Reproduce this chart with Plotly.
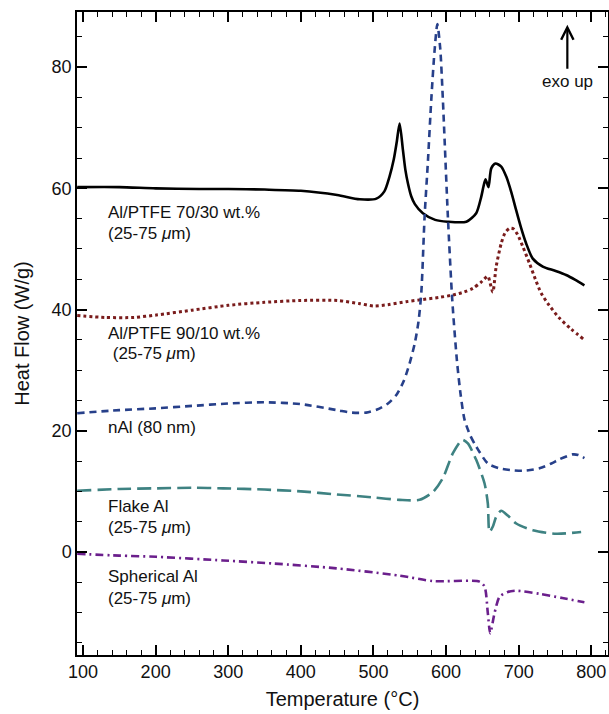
import plotly.graph_objects as go

# ---- data (Temperature °C, Heat Flow W/g) ----
t_7030 = [92, 150, 200, 260, 300, 350, 400, 450, 481, 504, 515, 522, 528, 532, 536, 540.6, 544, 547.5, 552, 557, 568, 585, 602, 628, 641.5, 648.4, 651.5, 654.3, 658.4, 662.2, 668, 676, 683, 690, 696.5, 703, 710.3, 719.4, 733.2, 750, 765.3, 778, 790.5]
hf_7030 = [60.2, 60.2, 60.0, 59.9, 59.9, 59.8, 59.6, 58.9, 58.2, 58.3, 59.5, 61.9, 64.8, 67.6, 70.7, 66.3, 63.0, 60.8, 58.7, 57.4, 55.9, 54.8, 54.5, 54.5, 55.9, 58.6, 60.3, 61.5, 60.2, 63.3, 64.1, 63.6, 61.9, 59.3, 56.4, 53.6, 50.9, 48.4, 47.1, 46.4, 45.7, 44.9, 44.0]

t_9010 = [92, 130, 170, 201, 250, 300, 350, 400, 450, 480, 500, 520, 545, 563.5, 590, 609.4, 625, 636.9, 648, 657.5, 660.8, 664.4, 669, 675.9, 681, 687.3, 693, 698.8, 706, 714.9, 723, 731, 742, 756, 772, 790.5]
hf_9010 = [39.0, 38.7, 38.7, 39.1, 39.9, 40.7, 41.2, 41.5, 41.5, 41.0, 40.6, 40.8, 41.3, 41.6, 42.0, 42.4, 42.9, 43.5, 44.5, 45.5, 44.3, 42.9, 47.1, 50.9, 52.6, 53.4, 53.3, 52.3, 50.3, 47.6, 45.0, 42.7, 40.7, 38.6, 36.8, 35.0]

t_nal = [92, 150, 200, 250, 300, 350, 400, 450, 470, 490, 505, 520, 532, 542, 550, 557, 562, 566, 570.4, 575, 579.6, 584, 588, 592, 595.6, 602.5, 608.5, 615, 620, 625.5, 633, 641.5, 657.5, 673.6, 690, 705.6, 728.6, 745, 756.1, 774.4, 782, 790.5]
hf_nal = [22.9, 23.4, 23.7, 24.1, 24.5, 24.7, 24.4, 23.4, 23.0, 23.0, 23.5, 24.5, 26.0, 28.3, 31.2, 34.5, 38.0, 43.0, 55.3, 64.5, 74.6, 82.5, 87.1, 83.0, 74.6, 55.3, 41.6, 31.5, 26.0, 21.8, 19.3, 17.4, 14.6, 13.8, 13.5, 13.4, 13.8, 14.6, 15.3, 16.1, 16.0, 15.5]

t_flake = [92, 150, 201, 250, 293, 350, 400, 449, 500, 536, 563.5, 581.9, 595.6, 609.4, 622.3, 630, 641.5, 653, 657.5, 659.8, 664.4, 669, 675.9, 685, 696.6, 719.4, 751.6, 786]
hf_flake = [10.1, 10.4, 10.5, 10.6, 10.5, 10.3, 10.0, 9.5, 9.0, 8.6, 8.6, 9.9, 12.2, 16.3, 18.5, 17.9, 15.2, 11.3, 8.0, 3.3, 4.2, 5.8, 6.8, 6.0, 4.7, 3.6, 3.0, 3.3]

t_sph = [92, 150, 201, 293, 361.8, 449, 536, 581.9, 646, 653, 657.5, 660.8, 666.7, 673.6, 685, 696.6, 728.6, 760, 790.5]
hf_sph = [-0.3, -0.6, -0.8, -1.4, -1.9, -2.7, -3.9, -4.8, -4.9, -5.7, -10.1, -13.4, -10.1, -7.4, -6.6, -6.4, -6.9, -7.6, -8.3]

labels = ["Al/PTFE 70/30 wt.%", "(25-75 <i>μ</i>m)", "Al/PTFE 90/10 wt.%", " (25-75 <i>μ</i>m)",
          "nAl (80 nm)", "Flake Al", "(25-75 <i>μ</i>m)", "Spherical Al", "(25-75 <i>μ</i>m)"]
label_y = [56.0, 52.6, 36.0, 32.8, 20.6, 7.5, 4.1, -4.1, -7.6]
label_x = 132

FONT = "Liberation Sans, Arial, sans-serif"

fig = go.Figure()
series = [
    (t_7030, hf_7030, "#000000", "solid", 2.6),
    (t_9010, hf_9010, "#7a1c1c", "3px,3px", 3),
    (t_nal, hf_nal, "#27408a", "7px,5px", 2.6),
    (t_flake, hf_flake, "#3e8282", "14px,6px", 2.6),
    (t_sph, hf_sph, "#6b1f8c", "8px,4px,2px,4px", 2.6),
]
for t, h, c, d, w in series:
    fig.add_trace(go.Scatter(x=t, y=h, mode="lines",
                             line=dict(color=c, dash=d, width=w, shape="spline", smoothing=0.7),
                             showlegend=False, hoverinfo="skip"))

for txt, yy in zip(labels, label_y):
    fig.add_annotation(x=label_x, y=yy, text=txt, showarrow=False, xanchor="left",
                       yanchor="middle", font=dict(size=17, color="#111", family=FONT))

# exo up arrow
fig.add_annotation(x=767, y=87.0, ax=767, ay=79.5, axref="x", ayref="y", xref="x", yref="y",
                   showarrow=True, arrowhead=5, arrowsize=1.1, arrowwidth=2.2, arrowcolor="#000", text="")
fig.add_annotation(x=767, y=77.6, text="exo up", showarrow=False, xanchor="center", yanchor="middle",
                   font=dict(size=17, color="#111", family=FONT))

axis_common = dict(showline=True, linecolor="#000", linewidth=1.5, mirror="ticks",
                   ticks="inside", ticklen=10, tickwidth=1.5, tickcolor="#000",
                   showgrid=False, zeroline=False,
                   tickfont=dict(size=18, color="#111", family=FONT))

fig.update_xaxes(range=[91.7, 823], dtick=100, tick0=0,
                 minor=dict(dtick=20, ticks="inside", ticklen=5, tickwidth=1.2, tickcolor="#000"),
                 title=dict(text="Temperature (°C)", font=dict(size=20, color="#111", family=FONT), standoff=11),
                 **axis_common)
fig.update_yaxes(range=[-17, 89.1], dtick=20, tick0=0,
                 minor=dict(dtick=5, ticks="inside", ticklen=5, tickwidth=1.2, tickcolor="#000"),
                 title=dict(text="Heat Flow (W/g)", font=dict(size=20, color="#111", family=FONT), standoff=17),
                 **axis_common)

fig.update_layout(width=609, height=714, margin=dict(l=77, r=1, t=12, b=59, autoexpand=False),
                  paper_bgcolor="white", plot_bgcolor="white")

fig.write_html("out.html")
